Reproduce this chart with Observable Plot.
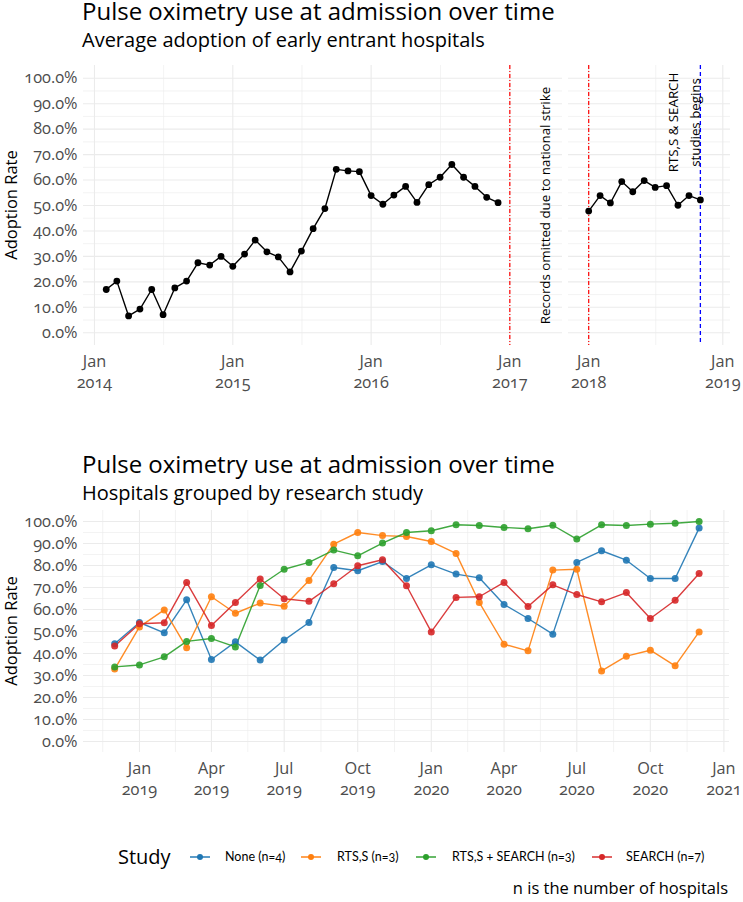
<!DOCTYPE html>
<html><head><meta charset="utf-8">
<script src="https://cdn.jsdelivr.net/npm/d3@7"></script>
<script src="https://cdn.jsdelivr.net/npm/@observablehq/plot@0.6"></script>
<style>
body{margin:0;background:#fff}
#root{position:relative;width:743px;height:902px;overflow:hidden;font-family:"Open Sans",sans-serif;font-variant-numeric:oldstyle-nums}
#root > *{position:absolute}
</style></head><body><div id="root"></div>
<script>
// ---------- data ----------
const topMonthsA = d3.utcMonths(new Date("2014-02-01"), new Date("2017-01-01"));
const topValuesA = [17.0,20.3,6.6,9.3,17.0,7.1,17.6,20.3,27.5,26.6,30.0,
  26.1,30.9,36.4,31.8,29.8,23.9,32.1,40.9,48.8,64.2,63.6,63.3,
  53.9,50.5,54.1,57.5,51.2,58.2,61.1,66.1,61.1,57.5,53.2,51.1];
const topMonthsB = d3.utcMonths(new Date("2018-01-01"), new Date("2018-12-01"));
const topValuesB = [47.8,53.9,51.0,59.4,55.4,59.8,57.1,57.8,50.1,53.9,52.2];

const studies = ["None (n=4)", "RTS,S (n=3)", "RTS,S + SEARCH (n=3)", "SEARCH (n=7)"];
const studyColors = ["#1f77b4", "#ff7f0e", "#2ca02c", "#d62728"];
const bottomMonths = d3.utcMonths(new Date("2018-12-01"), new Date("2021-01-01"));
const noneValues   = [44.4,54.1,49.4,64.4,37.3,45.3,37.0,46.1,54.1,79.1,77.6,81.8,74.1,80.3,76.1,74.4,62.3,55.9,48.8,81.4,86.7,82.4,74.1,74.1,97.0];
const rtssValues   = [32.9,52.1,59.8,42.6,65.8,58.3,62.9,61.5,73.2,89.7,95.0,93.6,93.2,90.9,85.5,63.2,44.2,41.2,77.9,78.3,32.1,38.8,41.5,34.4,49.8];
const bothValues   = [33.9,34.8,38.5,45.5,46.8,43.0,70.9,78.3,81.4,87.0,84.4,90.2,95.0,95.8,98.5,98.2,97.3,96.7,98.3,92.0,98.5,98.2,98.8,99.2,100.0];
const searchValues = [43.4,53.5,54.0,72.3,52.7,63.2,73.9,64.9,63.7,71.7,79.9,82.6,70.8,49.8,65.5,65.8,72.3,61.4,71.2,66.8,63.5,67.7,55.9,64.2,76.4];

const yTicks = [0, 0.1, 0.2, 0.3, 0.4, 0.5, 0.6, 0.7, 0.8, 0.9, 1.0];
const topTicksA = ["2014-01-01","2015-01-01","2016-01-01","2017-01-01"];
const topTicksB = ["2018-01-01","2019-01-01"];
const bottomTicks = ["2019-01-01","2019-04-01","2019-07-01","2019-10-01","2020-01-01","2020-04-01","2020-07-01","2020-10-01","2021-01-01"];
const strikeDates = ["2017-01-01", "2018-01-01"];
const studyStart = "2018-11-01";
const strikeNote = "Records omitted due to national strike";
const studyNote = "RTS,S & SEARCH\nstudies begins";

// ---------- build ----------
const root = document.getElementById("root");
const FONT = "'Open Sans', sans-serif";
const GRID = "#ebebeb";
const TICK = "#4d4d4d";
const TICKSIZE = 16.3;
const NOTESIZE = 13.3;
const D = s => new Date(s);
const yMinor = d3.pairs(yTicks).map(([a, b]) => (a + b) / 2);
const fmtPct = d3.format(".1%");
const fmtMonthYear = d => d3.utcFormat("%b")(d) + "\n" + d3.utcFormat("%Y")(d);
const midDates = ds => d3.pairs(ds.map(D)).map(([a, b]) => new Date((+a + +b) / 2));
const plotStyle = {fontFamily: FONT, background: "none", overflow: "visible", fontVariantNumeric: "oldstyle-nums"};

function gridAndAxes(majorDates, minorDates, showY) {
  return [
    Plot.ruleY(yMinor, {stroke: GRID, strokeWidth: 0.6}),
    Plot.ruleX(minorDates, {stroke: GRID, strokeWidth: 0.6}),
    Plot.ruleY(yTicks, {stroke: GRID, strokeWidth: 1.1}),
    Plot.ruleX(majorDates, {stroke: GRID, strokeWidth: 1.1}),
    showY ? Plot.text(yTicks, {y: d => d, text: fmtPct, frameAnchor: "left", textAnchor: "end", dx: -6, fill: TICK, fontSize: TICKSIZE}) : null,
    Plot.text(majorDates, {x: d => d, text: fmtMonthYear, frameAnchor: "bottom", lineAnchor: "top", dy: 6, lineHeight: 1.3, fill: TICK, fontSize: TICKSIZE})
  ];
}

function panel({width, height, mL, mR, mT, mB, xDomain, majors, minors, showY, marks}) {
  return Plot.plot({
    width, height, marginLeft: mL, marginRight: mR, marginTop: mT, marginBottom: mB,
    style: plotStyle,
    x: {type: "utc", domain: xDomain.map(D), axis: null},
    y: {domain: [-0.05, 1.05], axis: null},
    marks: [...gridAndAxes(majors.map(D), minors, showY), ...marks]
  });
}

function place(el, left, top) {
  el.style.left = left + "px"; el.style.top = top + "px";
  root.appendChild(el);
}

// top-left panel
const dataA = topMonthsA.map((m, i) => ({date: m, value: topValuesA[i] / 100}));
const dataB = topMonthsB.map((m, i) => ({date: m, value: topValuesB[i] / 100}));

place(panel({
  width: 566, height: 340, mL: 83, mR: 4, mT: 10, mB: 50,
  xDomain: ["2013-12-03", "2017-05-20"], majors: topTicksA,
  minors: midDates(topTicksA), showY: true,
  marks: [
    Plot.ruleX([D(strikeDates[0])], {stroke: "#ff0000", strokeWidth: 1.2, strokeDasharray: "4,2,1,2"}),
    Plot.line(dataA, {x: "date", y: "value", stroke: "#000", strokeWidth: 1.4}),
    Plot.dot(dataA, {x: "date", y: "value", r: 3.4, fill: "#000"}),
    Plot.text([strikeNote], {x: D("2017-04-07"), y: 0.5, text: d => d, rotate: -90, fontFamily: FONT, fontSize: NOTESIZE, fill: "#000"})
  ]
}), 0, 55);

// top-right panel
place(panel({
  width: 177, height: 340, mL: 2, mR: 13, mT: 10, mB: 50,
  xDomain: ["2017-11-07", "2019-01-22"], majors: topTicksB,
  minors: midDates(topTicksB), showY: false,
  marks: [
    Plot.ruleX([D(strikeDates[1])], {stroke: "#ff0000", strokeWidth: 1.2, strokeDasharray: "4,2,1,2"}),
    Plot.ruleX([D(studyStart)], {stroke: "#0000ff", strokeWidth: 1.3, strokeDasharray: "4,3"}),
    Plot.line(dataB, {x: "date", y: "value", stroke: "#000", strokeWidth: 1.4}),
    Plot.dot(dataB, {x: "date", y: "value", r: 3.4, fill: "#000"}),
    Plot.text([studyNote], {x: D("2018-09-13"), y: 0.826, text: d => d, rotate: -90, lineHeight: 1.65, fontFamily: FONT, fontSize: NOTESIZE, fill: "#000"})
  ]
}), 566, 55);

// bottom panel
const seriesValues = [noneValues, rtssValues, bothValues, searchValues];
const bottomData = studies.flatMap((s, k) => bottomMonths.map((m, i) => ({study: s, date: m, value: seriesValues[k][i] / 100})));
const bottomTickDates = bottomTicks.map(D);
const bottomMinors = midDates(["2018-10-01", ...bottomTicks]);

place(Plot.plot({
  width: 743, height: 302, marginLeft: 83, marginRight: 14, marginTop: 10, marginBottom: 50,
  style: plotStyle,
  x: {type: "utc", domain: [D("2018-10-23"), D("2021-01-08")], axis: null},
  y: {domain: [-0.05, 1.05], axis: null},
  color: {domain: studies, range: studyColors},
  marks: [
    ...gridAndAxes(bottomTickDates, bottomMinors, true),
    Plot.line(bottomData, {x: "date", y: "value", z: "study", stroke: "study", strokeWidth: 1.4, strokeOpacity: 0.9}),
    Plot.dot(bottomData, {x: "date", y: "value", fill: "study", r: 3.5, fillOpacity: 0.9})
  ]
}), 0, 500);

// ---------- titles, axis titles, legend, caption ----------
const ov = d3.create("svg").attr("width", 743).attr("height", 902)
  .style("font-family", FONT).style("pointer-events", "none");
const t = (x, y, s, size, opts = {}) => {
  const e = ov.append("text").attr("x", x).attr("y", y).attr("font-size", size).attr("fill", opts.fill || "#000").text(s);
  if (opts.anchor) e.attr("text-anchor", opts.anchor);
  if (opts.rotate) e.attr("transform", `rotate(-90 ${x} ${y})`);
  if (opts.family) e.attr("font-family", opts.family);
  return e;
};
t(82, 20, "Pulse oximetry use at admission over time", 24);
t(82, 47, "Average adoption of early entrant hospitals", 20);
t(82, 473, "Pulse oximetry use at admission over time", 24);
t(82, 500, "Hospitals grouped by research study", 20);
t(17, 205, "Adoption Rate", 16.5, {anchor: "middle", rotate: true});
t(17, 631, "Adoption Rate", 16.5, {anchor: "middle", rotate: true});

// legend
t(118, 864, "Study", 20);
const keyX = [190, 301, 416, 592];
const labX = [225, 337, 452, 626];
studies.forEach((s, i) => {
  ov.append("line").attr("x1", keyX[i]).attr("x2", keyX[i] + 20).attr("y1", 857).attr("y2", 857)
    .attr("stroke", studyColors[i]).attr("stroke-width", 1.6).attr("opacity", 0.9);
  ov.append("circle").attr("cx", keyX[i] + 10).attr("cy", 857).attr("r", 3).attr("fill", studyColors[i]);
  t(labX[i], 861, s, 12.5, {family: "Lato, sans-serif"});
});
t(728, 894, "n is the number of hospitals", 16.5, {anchor: "end"});
place(ov.node(), 0, 0);
</script></body></html>
